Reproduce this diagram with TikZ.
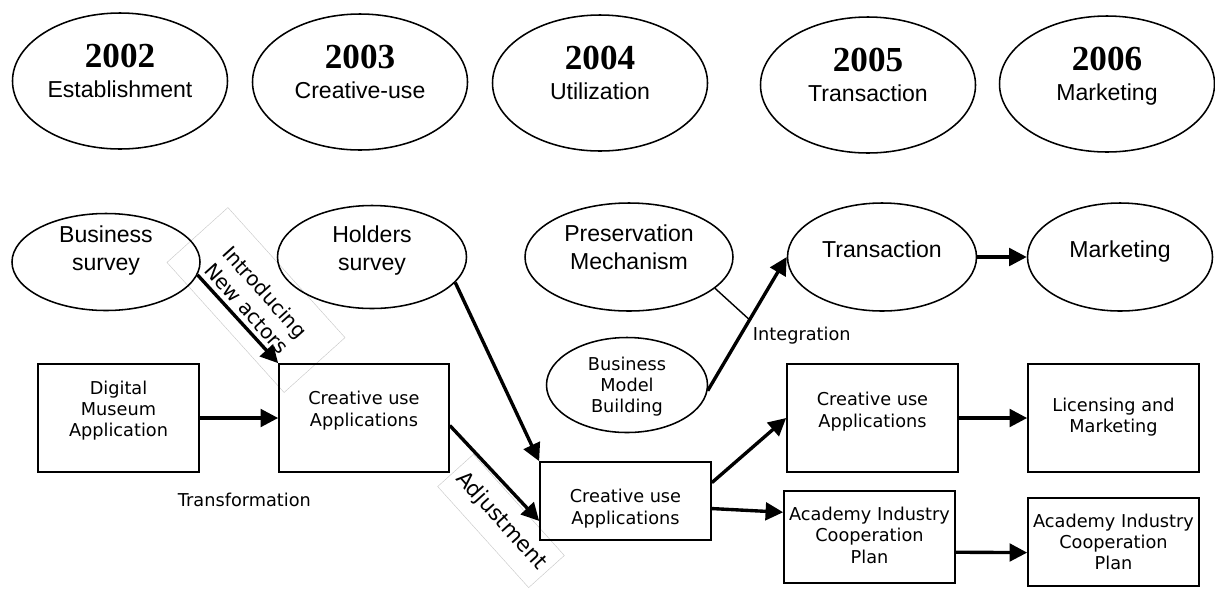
\documentclass[tikz,border=0pt]{standalone}
\usepackage{fontspec}
\setmainfont{Liberation Sans}
\newfontfamily\yearfont{Liberation Serif}
\newfontfamily\boxfont{DejaVu Sans}
\usetikzlibrary{shapes.geometric, arrows.meta}

% one drawing unit = one pixel of the 1215 x 588 canvas
\newcommand{\unitpx}{0.025cm}
% year on top, phase name below it
\newcommand{\yr}[2]{{\yearfont\bfseries\fontsize{25}{25}\selectfont #1}\\#2}

\tikzset{
  yearoval/.style={ellipse, draw, line width=1.1pt, inner sep=0pt,
    minimum width=215*\unitpx, minimum height=136*\unitpx, align=center,
    font=\fontsize{16.4}{21}\selectfont},
  stageoval/.style={ellipse, draw, line width=1.1pt, inner sep=0pt,
    minimum width=190*\unitpx, minimum height=106*\unitpx, align=center,
    font=\fontsize{16.4}{19.5}\selectfont},
  stepbox/.style={rectangle, draw, line width=1.2pt, inner sep=0pt,
    minimum width=171*\unitpx, minimum height=108*\unitpx, align=center,
    font=\boxfont\fontsize{12.6}{15}\selectfont},
  % last text line sits this far below the shape centre (times two)
  drop/.style={text height=#1, text depth=0pt},
  flow/.style={line width=2.4pt, -{Triangle[length=12.5pt, width=12.5pt]}},
  tag/.style={font=\boxfont\fontsize{12.6}{15}\selectfont},
  slanted/.style={draw=black!22, line width=0.3pt, rotate=-48, align=center,
    inner sep=0pt, font=\boxfont\fontsize{14.4}{17.5}\selectfont},
}

\begin{document}
\begin{tikzpicture}[x=\unitpx, y=-\unitpx]
  \useasboundingbox (0,0) rectangle (1215,588);

  % time line of the yearly phases
  \foreach \yx/\yy/\ylab [count=\k from 2] in {120/81/Establishment,
      360/82/Creative-use, 600/83/Utilization, 868/85/Transaction,
      1107/84/Marketing}
    \node[yearoval, drop=23.5pt] (year\k) at (\yx,\yy) {\yr{200\k}{\ylab}};

  % slanted captions (frames sit under everything else)
  \node[slanted, minimum width=175*\unitpx, minimum height=82*\unitpx]
    (newact) at (256,300) {Introducing\\New actors};
  \node[slanted, minimum width=136*\unitpx, minimum height=48*\unitpx,
    font=\boxfont\fontsize{15.3}{18}\selectfont] (adjust) at (501,521) {Adjustment};

  % surveys and mechanisms
  \node[stageoval, minimum width=188*\unitpx, minimum height=97*\unitpx,
    drop=11.4pt] (bsurvey) at (106,262) {Business\\survey};
  \node[stageoval, minimum width=189*\unitpx, minimum height=103*\unitpx,
    drop=18.5pt] (hsurvey) at (372,257) {Holders\\survey};
  \node[stageoval, minimum width=208*\unitpx, minimum height=108*\unitpx,
    drop=17.1pt] (preserve) at (629,257) {Preservation\\Mechanism};
  \node[stageoval, minimum width=189*\unitpx, minimum height=108*\unitpx,
    drop=0pt] (trans) at (882,257) {Transaction};
  \node[stageoval, minimum width=185*\unitpx, minimum height=108*\unitpx,
    drop=0pt] (market) at (1120,257) {Marketing};
  \node[stageoval, minimum width=161*\unitpx, minimum height=95*\unitpx,
    font=\boxfont\fontsize{12.6}{15}\selectfont, drop=39.8pt]
    (bmodel) at (627,385) {Business\\Model\\Building};

  % applications and plans
  \node[stepbox, minimum width=161*\unitpx, drop=27pt] (museum)
    at (118.5,418) {Digital\\Museum\\Application};
  \node[stepbox, minimum width=170*\unitpx, drop=11.4pt] (cuse1)
    at (364,418) {Creative use\\Applications};
  \node[stepbox, minimum height=78*\unitpx, drop=32.7pt] (cuse2)
    at (625.5,501) {Creative use\\Applications};
  \node[stepbox, drop=12.8pt] (cuse3) at (872.5,418) {Creative use\\Applications};
  \node[stepbox, drop=21.3pt] (license) at (1113.5,418) {Licensing and\\Marketing};
  \node[stepbox, minimum height=92*\unitpx, drop=37pt] (acad1)
    at (869.5,537) {Academy Industry\\Cooperation\\Plan};
  \node[stepbox, minimum height=88*\unitpx, drop=39.8pt] (acad2)
    at (1113.5,542) {Academy Industry\\Cooperation\\Plan};

  \node[tag, anchor=base west] (integ) at (748,340) {Integration};
  \node[tag, anchor=base west] (transf) at (173,506) {Transformation};

  % flows
  \draw[flow] (bsurvey.-8) -- (cuse1.north west);
  \draw[flow] (museum.east) -- (cuse1.west);
  \draw[flow] (hsurvey.-17) -- (cuse2.north west);
  \draw[flow] (cuse1.-5) -- (cuse2.193);
  \draw[flow] (cuse2.12) -- (cuse3.west);
  \draw[flow] (cuse2.-5) -- (acad1.164);
  \draw[flow] (bmodel.-4) -- coordinate[pos=0.53] (merge) (trans.west);
  \draw[flow] (trans.east) -- (market.west);
  \draw[flow] (cuse3.east) -- (license.west);
  \draw[flow] (acad1.-10) -- (acad2.187);
  \draw[line width=1pt] (preserve.-20) -- (merge);
\end{tikzpicture}
\end{document}
